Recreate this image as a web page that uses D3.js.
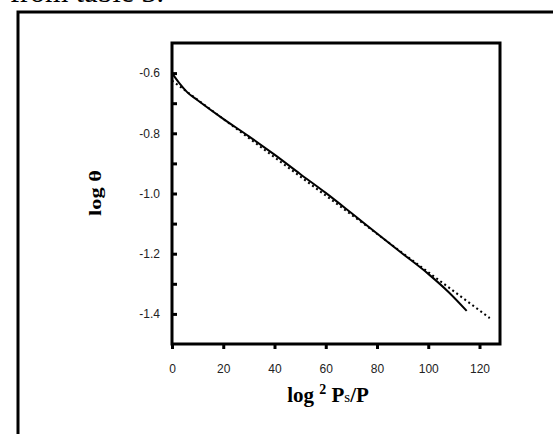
<!DOCTYPE html>
<html>
<head>
<meta charset="utf-8">
<script src="https://cdn.jsdelivr.net/npm/d3@7"></script>
<style>
  body { margin: 0; background: #fff; }
  .tick text { font-family: "Liberation Sans", Arial, sans-serif; font-size: 12px; fill: #222; }
</style>
</head>
<body>
<div id="chart"></div>
<script>
// measured curve (solid) and fitted line (dotted)
var measuredX = [0, 3, 6, 10, 20, 30, 40, 50, 60, 70, 80, 90, 100, 108, 115];
var measuredY = [-0.6, -0.635, -0.664, -0.69, -0.752, -0.81, -0.871, -0.935, -0.998, -1.065, -1.133, -1.2, -1.267, -1.328, -1.39];
var fitX = [0, 124];
var fitY = [-0.625, -1.414];
var xTicks = [0, 20, 40, 60, 80, 100, 120];
var yTicks = [-0.6, -0.8, -1.0, -1.2, -1.4];
var yMinor = [-0.7, -0.9, -1.1, -1.3];

var W = 553, H = 434;
var svg = d3.select("#chart").append("svg")
  .attr("width", W).attr("height", H);

var serif = "'Liberation Serif', 'Times New Roman', serif";

// cut-off caption text at the very top
svg.append("text")
  .attr("x", 10).attr("y", 1.5)
  .style("font-family", serif)
  .style("font-size", "30px")
  .text("from table 3.");

// outer frame (runs off the page)
svg.append("rect")
  .attr("x", 18).attr("y", 12)
  .attr("width", 560).attr("height", 440)
  .attr("fill", "none").attr("stroke", "#000").attr("stroke-width", 3);

var mLeft = 172, mRight = 500, mTop = 43, mBottom = 344;

var x = d3.scaleLinear().domain([0, 128]).range([mLeft, mRight]);
var y = d3.scaleLinear().domain([-1.5, -0.5]).range([mBottom, mTop]);

// x axis
svg.append("g")
  .attr("transform", "translate(0," + mBottom + ")")
  .call(d3.axisBottom(x).tickValues(xTicks).tickSize(5).tickPadding(15).tickFormat(d => d))
  .call(g => g.select(".domain").remove())
  .call(g => g.selectAll(".tick line").attr("stroke-width", 3));

// y axis, ticks pointing inward
svg.append("g")
  .attr("transform", "translate(" + mLeft + ",0)")
  .call(d3.axisLeft(y).tickValues(yTicks).tickSize(-5).tickPadding(12).tickFormat(d => d.toFixed(1)))
  .call(g => g.select(".domain").remove())
  .call(g => g.selectAll(".tick line").attr("stroke-width", 3));

svg.append("g")
  .attr("transform", "translate(" + mLeft + ",0)")
  .call(d3.axisLeft(y).tickValues(yMinor).tickSize(-5).tickFormat(""))
  .call(g => g.select(".domain").remove())
  .call(g => g.selectAll(".tick line").attr("stroke-width", 3));

// plot box
svg.append("rect")
  .attr("x", mLeft).attr("y", mTop)
  .attr("width", mRight - mLeft).attr("height", mBottom - mTop)
  .attr("fill", "none").attr("stroke", "#000").attr("stroke-width", 3);

var line = d3.line()
  .x(d => x(d[0]))
  .y(d => y(d[1]));

svg.append("path")
  .datum(d3.zip(fitX, fitY))
  .attr("d", line)
  .attr("fill", "none").attr("stroke", "#000")
  .attr("stroke-width", 2).attr("stroke-dasharray", "2,3");

svg.append("path")
  .datum(d3.zip(measuredX, measuredY))
  .attr("d", line.curve(d3.curveMonotoneX))
  .attr("fill", "none").attr("stroke", "#000")
  .attr("stroke-width", 2);

// axis titles
svg.append("text")
  .attr("transform", "translate(101,193) rotate(-90)")
  .attr("text-anchor", "middle")
  .attr("textLength", 46).attr("lengthAdjust", "spacingAndGlyphs")
  .style("font-family", serif).style("font-weight", "bold").style("font-size", "16px")
  .text("log \u03b8");

var xt = svg.append("text")
  .attr("x", 328).attr("y", 402)
  .attr("text-anchor", "middle")
  .style("font-family", serif).style("font-weight", "bold").style("font-size", "21px");
xt.append("tspan").text("log ");
xt.append("tspan").attr("dy", -8).style("font-size", "14px").text("2");
xt.append("tspan").attr("dy", 8).text(" P");
xt.append("tspan").style("font-size", "15px").style("font-weight", "normal").text("s");
xt.append("tspan").text("/P");
</script>
</body>
</html>
